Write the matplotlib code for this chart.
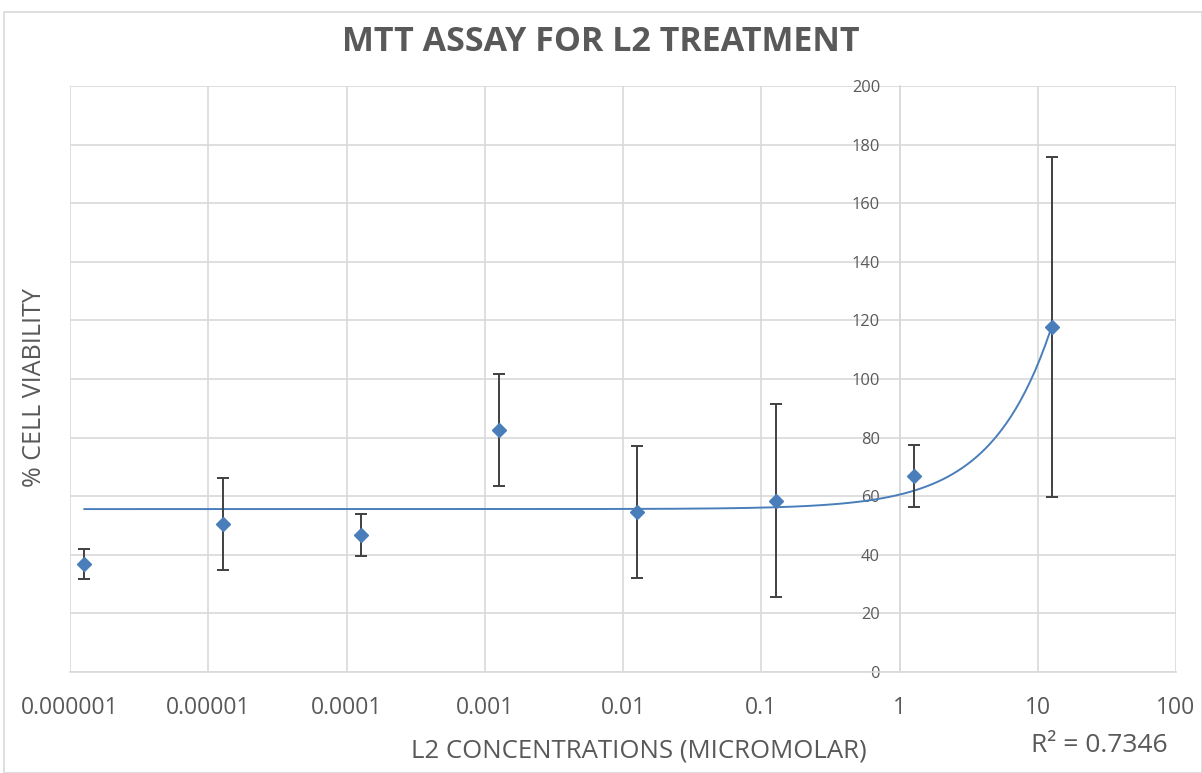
import numpy as np
import matplotlib
matplotlib.use("Agg")
import matplotlib.pyplot as plt
from matplotlib.patches import Rectangle

# Data
concentrations = [1.27e-6, 1.27e-5, 1.27e-4, 1.27e-3, 1.27e-2, 1.27e-1, 1.27, 12.7]
viability = [36.9, 50.5, 46.8, 82.6, 54.6, 58.5, 66.8, 117.8]
errors = [5.0, 15.8, 7.2, 19.2, 22.5, 33.0, 10.6, 58.0]
xtick_vals = [1e-6, 1e-5, 1e-4, 1e-3, 1e-2, 1e-1, 1, 10, 100]
xtick_labels = ["0.000001", "0.00001", "0.0001", "0.001", "0.01", "0.1", "1", "10", "100"]
yticks = [0, 20, 40, 60, 80, 100, 120, 140, 160, 180, 200]
r2_label = "R² = 0.7346"

TXT = "#595959"
GRID = "#d9d9d9"
BLUE = "#4a7ebb"

plt.rcParams['font.family'] = ['Open Sans', 'DejaVu Sans']

fig = plt.figure(figsize=(12.02, 7.73), dpi=100)
fig.patches.append(Rectangle((4/1202, 0), 1 - 4/1202, 1 - 12/773, transform=fig.transFigure,
                             fill=False, edgecolor=GRID, lw=1.2))
ax = fig.add_axes([70/1202, 1 - 672/773, (1176 - 70)/1202, (672 - 86)/773])

x = np.array(concentrations)
y = np.array(viability)

# Linear trendline (Excel-style least squares on y vs x), drawn on log axis
m, c = np.polyfit(x, y, 1)
xt = np.logspace(np.log10(x.min()), np.log10(x.max()), 400)
ax.plot(xt, m * xt + c, color=BLUE, lw=1.4, zorder=3)

ax.errorbar(x, y, yerr=errors, fmt='D', color=BLUE, ms=7.5, ecolor="#404040",
            elinewidth=1.4, capsize=4, capthick=1.4, zorder=4)

ax.set_xscale('log')
ax.set_xlim(1e-6, 100)
ax.set_ylim(0, 200)
ax.set_xticks(xtick_vals)
ax.set_xticklabels(xtick_labels)
ax.xaxis.set_minor_locator(matplotlib.ticker.NullLocator())
ax.set_yticks(yticks)
ax.grid(True, color=GRID, lw=1.2)
ax.set_axisbelow(True)

for s in ['top', 'right']:
    ax.spines[s].set_visible(False)
ax.spines['left'].set_position(('data', 1))
ax.spines['left'].set_color(GRID)
ax.spines['left'].set_linewidth(1.2)
ax.spines['bottom'].set_color(GRID)
ax.spines['bottom'].set_linewidth(1.2)

ax.tick_params(axis='x', length=0, pad=17, labelsize=16.5, labelcolor=TXT)
ax.tick_params(axis='y', length=0, pad=14, labelsize=11.8, labelcolor=TXT)

fig.text(0.5, 1 - 42/773, "MTT ASSAY FOR L2 TREATMENT", ha='center', va='center',
         fontsize=24.5, fontweight='bold', color=TXT)
fig.text(35/1202, 1 - 388/773, "% CELL VIABILITY", rotation=90, ha='center', va='center',
         fontsize=18, color=TXT)
fig.text(639/1202, 1 - 751/773, "L2 CONCENTRATIONS (MICROMOLAR)", ha='center', va='center',
         fontsize=18.5, color=TXT)
fig.text(1099/1202, 1 - 746/773, r2_label, ha='center', va='center', fontsize=19, color=TXT)

fig.savefig("out.png", dpi=100)
